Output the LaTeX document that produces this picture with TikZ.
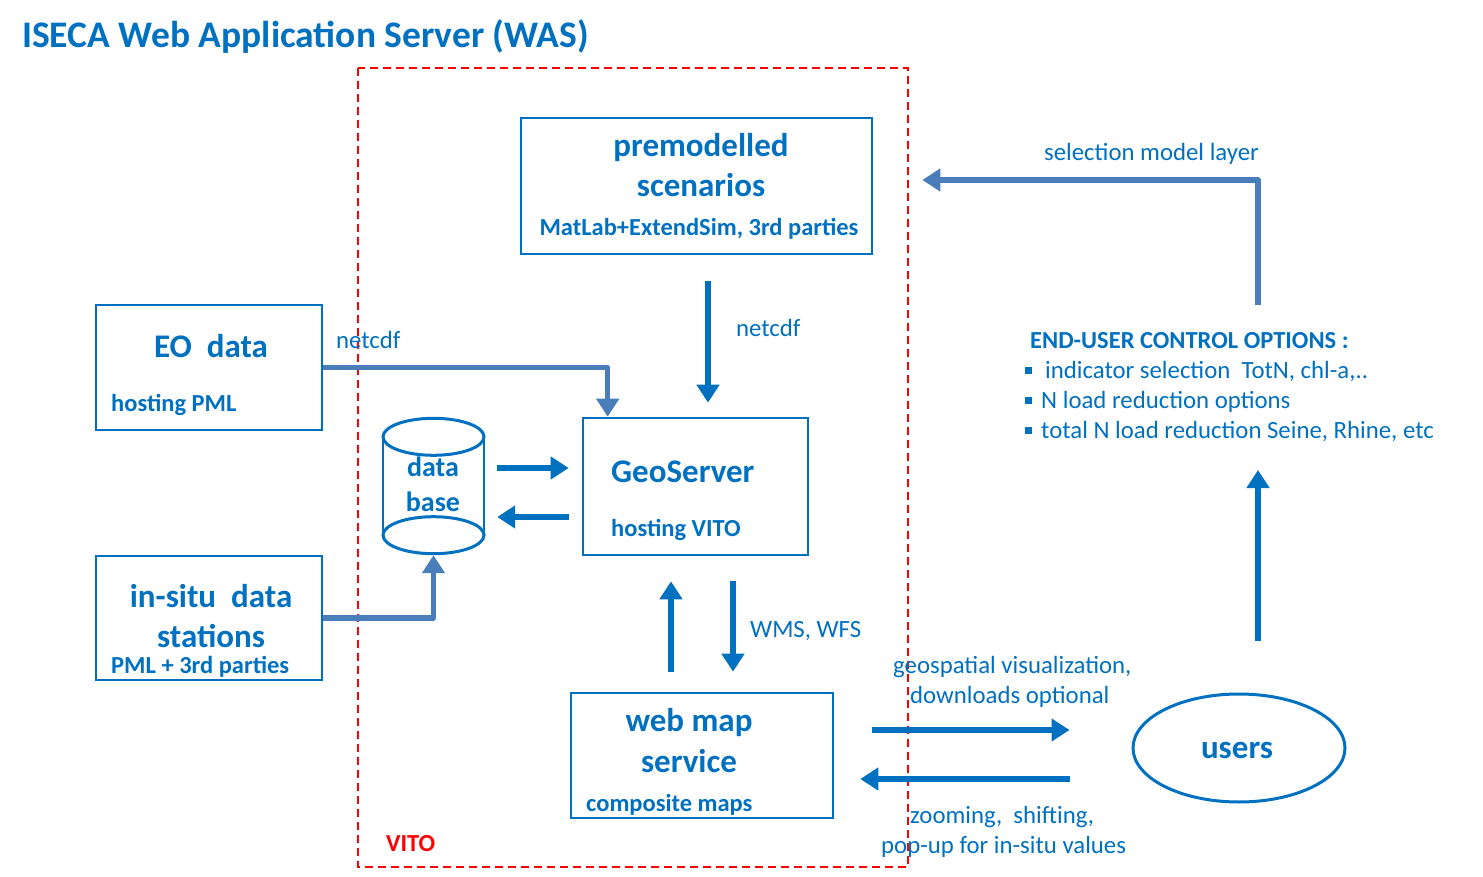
\documentclass[tikz,border=0pt]{standalone}
\usepackage{fontspec}
\setmainfont{Carlito}
\usetikzlibrary{arrows.meta,shapes.geometric,calc}
\definecolor{mblue}{HTML}{0070C0}
\definecolor{sblue}{HTML}{4A7EBB}
\definecolor{mred}{HTML}{FF0000}
\tikzset{
  box/.style={draw=mblue,line width=2.6,inner sep=0pt,rectangle},
  big/.style={text=mblue,font=\fontsize{33}{36}\selectfont\bfseries,inner sep=0pt,anchor=base},
  mid/.style={text=mblue,font=\fontsize{28}{30}\selectfont\bfseries,inner sep=0pt,anchor=base},
  small/.style={text=mblue,font=\fontsize{24.5}{27}\selectfont\bfseries,inner sep=0pt,anchor=base},
  reg/.style={text=mblue,font=\fontsize{24.8}{27}\selectfont,inner sep=0pt,anchor=base},
  barrow/.style={draw=mblue,line width=5.5,-{Triangle[length=18,width=22]}},
  sarrow/.style={draw=sblue,line width=5.5,line join=round,-{Triangle[length=18,width=22]}},
}
\begin{document}
\begin{tikzpicture}[x=1pt,y=-1pt]
\useasboundingbox (0,0) rectangle (1483,877);
% title
\node[text=mblue,font=\fontsize{37.5}{40}\selectfont\bfseries,inner sep=0pt,anchor=base west] (title) at (22,48) {ISECA Web Application Server (WAS)};
% VITO dashed frame
\draw[mred,line width=2,dash pattern=on 8 off 5] (358,68) rectangle (908,867);
\node[text=mred,font=\fontsize{24.5}{27}\selectfont\bfseries,inner sep=0pt,anchor=base west] (vito) at (386,851) {VITO};
% boxes
\node[box,minimum width=351,minimum height=136] (premod) at (696.5,186) {};
\node[big] (pm1) at (701,157) {premodelled};
\node[big] (pm2) at (701,197) {scenarios};
\node[small] (pm3) at (699,236) {MatLab+ExtendSim, 3rd parties};

\node[box,minimum width=226,minimum height=125] (eo) at (209,367.5) {};
\node[big] (eo1) at (211,357) {EO\ \ data};
\node[small,anchor=base west] (eo2) at (111,411) {hosting PML};

\node[box,minimum width=226,minimum height=124] (insitu) at (209,618) {};
\node[big] (is1) at (211,607) {in-situ\ \ data};
\node[big] (is2) at (211,647) {stations};
\node[small,anchor=base west] (is3) at (111,673) {PML + 3rd parties};

\node[box,minimum width=225,minimum height=137] (geo) at (695.5,486.5) {};
\node[big,anchor=base west] (geo1) at (611,482) {GeoServer};
\node[small,anchor=base west] (geo2) at (611,536) {hosting VITO};

\node[box,minimum width=262,minimum height=125] (wms) at (702,755.5) {};
\node[big] (wms1) at (689,731) {web map};
\node[big] (wms2) at (689,772) {service};
\node[small,anchor=base west] (wms3) at (586,811) {composite maps};

\node[draw=mblue,line width=3,ellipse,inner sep=0pt,minimum width=212,minimum height=108] (users) at (1239,748) {};
\node[big] (usr) at (1237,758) {users};

% database cylinder
\node[inner sep=0pt,minimum width=101,minimum height=98] (db) at (433.5,486) {};
\draw[mblue,line width=1.6] (db.north west) -- (db.south west) (db.north east) -- (db.south east);
\node[draw=mblue,fill=white,line width=3,ellipse,inner sep=0pt,minimum width=101,minimum height=37] (dbt) at (db.north) {};
\node[draw=mblue,fill=white,line width=3,ellipse,inner sep=0pt,minimum width=101,minimum height=37] (dbb) at (db.south) {};
\node[mid] (db1) at (433,476) {data};
\node[mid] (db2) at (433,511) {base};

% control options
\node[small,anchor=base west] (ctrl) at (1030,348) {END-USER CONTROL OPTIONS :};
\node[reg,anchor=base west] (b1) at (1045,378) {indicator selection\ \ TotN, chl-a,..};
\node[reg,anchor=base west] (b2) at (1041,408) {N load reduction options};
\node[reg,anchor=base west] (b3) at (1041,438) {total N load reduction Seine, Rhine, etc};
\foreach \yy in {370,400,430} \fill[mblue] (1025,\yy-3.5) rectangle ++(7,7);

% labels
\node[reg,anchor=base west] (l1) at (336,348) {netcdf};
\node[reg,anchor=base west] (l2) at (736,336) {netcdf};
\node[reg,anchor=base east] (l3) at (1259,161) {selection model layer};
\node[reg,anchor=base west] (l4) at (750,637) {WMS, WFS};
\node[reg,anchor=base west] (l5) at (893,673) {geospatial visualization,};
\node[reg,anchor=base west] (l6) at (910,703) {downloads optional};
\node[reg,anchor=base west] (l7) at (910,823) {zooming,\ \ shifting,};
\node[reg,anchor=base west] (l8) at (881,853) {pop-up for in-situ values};

% connectors
\draw[sarrow] (eo.east) -| ($(geo.north west)+(26,0)$);
\draw[sarrow] (insitu.east) -| (dbb.south);
\draw[barrow,shorten <=26,shorten >=14] ($(premod.south)+(11.5,0)$) -- ($(geo.north)+(12.5,0)$);
\coordinate (g1) at ($(geo.west)+(0,-18.5)$);
\coordinate (g2) at ($(geo.west)+(0,30.5)$);
\draw[barrow,shorten <=13,shorten >=13] (g1 -| db.east) -- (g1);
\draw[barrow,shorten <=13,shorten >=13] (g2) -- (g2 -| db.east);
\draw[barrow,shorten <=20,shorten >=25] ($(wms.north)+(-31,0)$) -- ($(geo.south)+(-24.5,0)$);
\draw[barrow,shorten <=25,shorten >=20] ($(geo.south)+(37.5,0)$) -- ($(wms.north)+(31,0)$);
\coordinate (w1) at ($(wms.east)+(0,-25.5)$);
\coordinate (w2) at ($(wms.east)+(0,23.5)$);
\draw[barrow,shorten <=38,shorten >=62] (w1) -- (w1 -| users.west);
\draw[barrow,shorten <=62,shorten >=26] (w2 -| users.west) -- (w2);
\coordinate (ctrlbot) at (1258,470);
\coordinate (ctrltop) at (1258,305);
\draw[barrow,shorten <=52] (users.north -| ctrlbot) -- (ctrlbot);
\draw[sarrow] (ctrltop) |- ($(premod.east)+(49,-6)$);
\end{tikzpicture}
\end{document}
